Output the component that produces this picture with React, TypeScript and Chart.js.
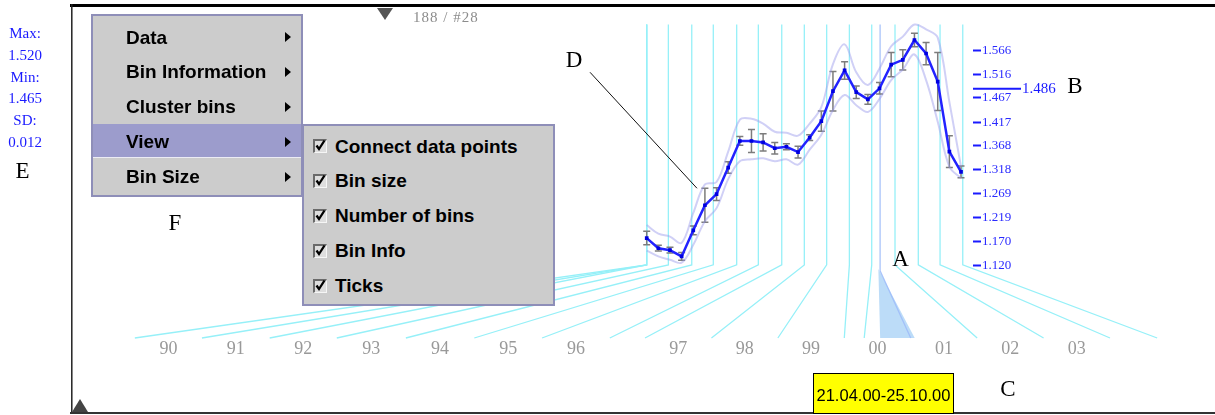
import React, { useEffect, useRef } from 'react';
import { Chart, registerables } from 'chart.js';

Chart.register(...registerables);

// ---------- data ----------
const bins = [1, 2, 3, 4, 5, 6, 7, 8, 9, 10, 11, 12, 13, 14, 15, 16, 17, 18, 19, 20, 21, 22, 23, 24, 25, 26, 27, 28];
const binMeans = [1.177, 1.156, 1.152, 1.139, 1.193, 1.245, 1.268, 1.323, 1.378, 1.378, 1.375, 1.363, 1.366, 1.355,
  1.385, 1.419, 1.481, 1.524, 1.479, 1.464, 1.487, 1.536, 1.546, 1.587, 1.559, 1.501, 1.356, 1.314];
const binErrors = [0.014, 0.006, 0.006, 0.008, 0.009, 0.035, 0.013, 0.012, 0.009, 0.024, 0.018, 0.012, 0.006, 0.012,
  0.006, 0.021, 0.041, 0.018, 0.013, 0.010, 0.012, 0.025, 0.021, 0.014, 0.023, 0.060, 0.033, 0.012];
const bandUpper = [1.204, 1.186, 1.180, 1.167, 1.229, 1.288, 1.293, 1.356, 1.422, 1.424, 1.414, 1.397, 1.395, 1.389,
  1.414, 1.448, 1.537, 1.578, 1.520, 1.494, 1.528, 1.574, 1.594, 1.619, 1.609, 1.592, 1.459, 1.325];
const bandLower = [1.151, 1.139, 1.132, 1.126, 1.163, 1.212, 1.239, 1.299, 1.336, 1.340, 1.342, 1.336, 1.340, 1.329,
  1.360, 1.391, 1.442, 1.473, 1.452, 1.438, 1.465, 1.504, 1.526, 1.557, 1.504, 1.418, 1.325, 1.301];

const yTickValues = [1.120, 1.170, 1.219, 1.269, 1.318, 1.368, 1.417, 1.467, 1.516, 1.566];
const selectedMean = 1.486;

// vertical bin guide lines (bin position) and where they land on the time line (year)
const gridBins = [1, 1, 1, 2.86, 4.87, 6.72, 8.73, 10.59, 12.6, 14.54, 16.46, 18.41, 20.33, 22.33, 24.33, 26.2, 28.15];
const gridYears = [1989.32, 1990.33, 1991.35, 1992.36, 1993.40, 1994.43, 1995.45, 1996.47, 1997, 1998, 1999, 2000,
  2000.30, 2002, 2003, 2004, 2004.71];
const selectedBin = 20.9;
const selectedLineBin = 21.05;
const selectedLineYear = 2001;
const selectedRange = [2000.54, 2001.06];
const lineTopValue = 1.619;
const bendValue = 1.1215;

// time line: segment bounds and their labels ('' = unlabelled gap)
const yearBounds = [1989.32, 1990.33, 1991.35, 1992.36, 1993.40, 1994.43, 1995.45, 1996.47, 1997, 1998, 1999, 2000,
  2001, 2002, 2003, 2004];
const yearLabels = ['90', '91', '92', '93', '94', '95', '96', '', '97', '98', '99', '00', '01', '02', '03'];

// annotation "D" leader line in data coordinates [bin, value]
const leaderD = [[-3.87, 1.5202], [5.32, 1.2801]];

const menuItems = ['Data', 'Bin Information', 'Cluster bins', 'View', 'Bin Size'];
const viewItems = ['Connect data points', 'Bin size', 'Number of bins', 'Bin Info', 'Ticks'];
const statLines = ['Max:', '1.520', 'Min:', '1.465', 'SD:', '0.012'];
const dateRangeText = '21.04.00-25.10.00';
const countText = '188 / #28';

// ---------- derived ----------
const yearTickPos: number[] = [];
const yearTickLabels: string[] = [];
yearLabels.forEach((l, i) => {
  if (l) {
    yearTickPos.push((yearBounds[i] + yearBounds[i + 1]) / 2);
    yearTickLabels.push(l);
  }
});

const SERIF = "'Liberation Serif', 'DejaVu Serif', serif";
const SANS = "'Liberation Sans', Arial, sans-serif";

const decorPlugin = {
  id: 'decor',
  beforeDatasetsDraw(chart: any) {
    const { ctx, chartArea, scales } = chart;
    const x = scales.x, y = scales.y, xt = scales.xt;
    const yTop = y.getPixelForValue(lineTopValue);
    const yBend = y.getPixelForValue(bendValue);
    const yBase = chartArea.bottom;
    ctx.save();
    // selection wedge
    ctx.fillStyle = '#bcdcf8';
    ctx.beginPath();
    ctx.moveTo(x.getPixelForValue(selectedBin), yBend + 4);
    ctx.lineTo(xt.getPixelForValue(selectedRange[1]), yBase);
    ctx.lineTo(xt.getPixelForValue(selectedRange[0]), yBase);
    ctx.closePath();
    ctx.fill();
    // guide lines
    ctx.lineWidth = 1.3;
    ctx.strokeStyle = '#96f0f8';
    gridBins.forEach((b, i) => {
      const px = x.getPixelForValue(b);
      ctx.beginPath();
      ctx.moveTo(px, yTop);
      ctx.lineTo(px, yBend);
      ctx.lineTo(xt.getPixelForValue(gridYears[i]), yBase);
      ctx.stroke();
    });
    ctx.strokeStyle = 'rgba(160,190,250,0.9)';
    const sp = x.getPixelForValue(selectedLineBin);
    ctx.beginPath();
    ctx.moveTo(sp, yTop);
    ctx.lineTo(sp, yBend + 6);
    ctx.lineTo(xt.getPixelForValue(selectedLineYear), yBase);
    ctx.stroke();
    // error bars
    ctx.strokeStyle = '#7c7c7c';
    ctx.lineWidth = 1.5;
    bins.forEach((b, i) => {
      const px = x.getPixelForValue(b);
      const hi = y.getPixelForValue(binMeans[i] + binErrors[i]);
      const lo = y.getPixelForValue(binMeans[i] - binErrors[i]);
      ctx.beginPath();
      ctx.moveTo(px, hi); ctx.lineTo(px, lo);
      ctx.moveTo(px - 3.5, hi); ctx.lineTo(px + 3.5, hi);
      ctx.moveTo(px - 3.5, lo); ctx.lineTo(px + 3.5, lo);
      ctx.stroke();
    });
    ctx.restore();
  },
  afterDraw(chart: any) {
    const { ctx, chartArea, scales } = chart;
    const x = scales.x, y = scales.y;
    ctx.save();
    // selected mean marker
    const my = y.getPixelForValue(selectedMean);
    ctx.strokeStyle = '#1a1aff';
    ctx.lineWidth = 2;
    ctx.beginPath();
    ctx.moveTo(chartArea.right, my);
    ctx.lineTo(chartArea.right + 48, my);
    ctx.stroke();
    ctx.fillStyle = '#1a1aff';
    ctx.font = `15px ${SERIF}`;
    ctx.textBaseline = 'middle';
    ctx.textAlign = 'left';
    ctx.fillText(selectedMean.toFixed(3), chartArea.right + 49, my);
    // leader line for D
    ctx.strokeStyle = '#111';
    ctx.lineWidth = 1;
    ctx.beginPath();
    ctx.moveTo(x.getPixelForValue(leaderD[0][0]), y.getPixelForValue(leaderD[0][1]));
    ctx.lineTo(x.getPixelForValue(leaderD[1][0]), y.getPixelForValue(leaderD[1][1]));
    ctx.stroke();
    // frame
    ctx.strokeStyle = '#000';
    ctx.lineWidth = 3;
    ctx.beginPath(); ctx.moveTo(70, 5.5); ctx.lineTo(1215, 5.5); ctx.stroke();
    ctx.strokeStyle = '#222';
    ctx.lineWidth = 1.5;
    ctx.beginPath(); ctx.moveTo(71.8, 4); ctx.lineTo(71.8, 414); ctx.stroke();
    ctx.strokeStyle = '#333';
    ctx.lineWidth = 2;
    ctx.beginPath(); ctx.moveTo(70, 413); ctx.lineTo(1215, 413); ctx.stroke();
    // slider triangles
    ctx.fillStyle = '#555';
    ctx.beginPath(); ctx.moveTo(377, 8); ctx.lineTo(393, 8); ctx.lineTo(385, 20); ctx.closePath(); ctx.fill();
    ctx.fillStyle = '#444';
    ctx.beginPath(); ctx.moveTo(72, 412); ctx.lineTo(88, 412); ctx.lineTo(80, 399); ctx.closePath(); ctx.fill();
    ctx.restore();
  },
};

function Txt(props: { x: number; cy: number; size: number; text: string; family?: string; color?: string; weight?: number; align?: 'left' | 'center'; spacing?: number }) {
  const { x, cy, size, text, family = SERIF, color = '#000', weight = 400, align = 'left', spacing = 0 } = props;
  const style: React.CSSProperties = {
    position: 'absolute', top: cy - size / 2, fontSize: size, lineHeight: `${size}px`, fontFamily: family,
    color, fontWeight: weight, whiteSpace: 'nowrap', letterSpacing: spacing,
  };
  if (align === 'center') { style.left = x - 100; style.width = 200; style.textAlign = 'center'; }
  else style.left = x;
  return <div style={style}>{text}</div>;
}

function Arrow({ x, cy }: { x: number; cy: number }) {
  return <div style={{ position: 'absolute', left: x, top: cy - 5, width: 0, height: 0, borderTop: '5px solid transparent', borderBottom: '5px solid transparent', borderLeft: '6px solid #000' }} />;
}

function Check({ x, cy }: { x: number; cy: number }) {
  return (
    <div style={{ position: 'absolute', left: x, top: cy - 7, width: 14, height: 14, boxSizing: 'border-box', borderTop: '2px solid #6a6a6a', borderLeft: '2px solid #6a6a6a', borderRight: '1px solid #f6f6f6', borderBottom: '1px solid #f6f6f6', background: '#dedede' }}>
      <svg width="13" height="13" style={{ position: 'absolute', left: -1, top: -2 }}>
        <path d="M2.5 6.5 L5 10 L10.5 1.5" stroke="#000" strokeWidth="2.3" fill="none" />
      </svg>
    </div>
  );
}

export default function App() {
  const ref = useRef<HTMLCanvasElement>(null);
  useEffect(() => {
    const chart = new Chart(ref.current as HTMLCanvasElement, {
      type: 'line',
      data: {
        datasets: [
          {
            data: bins.map((b, i) => ({ x: b, y: binMeans[i] })),
            borderColor: '#2222ff', borderWidth: 2.5, pointStyle: 'rect', pointRadius: 2.6,
            pointBackgroundColor: '#0000e0', pointBorderColor: '#0000e0', pointBorderWidth: 0, order: 0,
          },
          {
            data: bins.map((b, i) => ({ x: b, y: bandUpper[i] })),
            borderColor: 'rgba(150,150,235,0.45)', borderWidth: 2, pointRadius: 0, tension: 0.35, order: 1,
          },
          {
            data: bins.map((b, i) => ({ x: b, y: bandLower[i] })),
            borderColor: 'rgba(150,150,235,0.45)', borderWidth: 2, pointRadius: 0, tension: 0.35, order: 1,
          },
        ],
      },
      options: {
        responsive: false,
        animation: false,
        devicePixelRatio: 1,
        events: [],
        layout: { padding: { left: 72, top: 6, right: 0, bottom: 0 } },
        plugins: { legend: { display: false }, tooltip: { enabled: false } },
        scales: {
          x: { type: 'linear', min: -48.37, max: 29.03, display: false },
          xt: {
            type: 'linear', position: 'bottom', min: 1988.374, max: 2001.9375,
            grid: { display: false, drawTicks: false }, border: { display: false },
            ticks: {
              autoSkip: false, maxRotation: 0, minRotation: 0, padding: 0, color: '#999999',
              font: { family: SERIF, size: 18 },
              callback: (_v: any, i: number) => yearTickLabels[i],
            },
            afterBuildTicks: (s: any) => { s.ticks = yearTickPos.map((v) => ({ value: v })); },
            afterFit: (s: any) => { s.height = 77; },
          },
          y: {
            type: 'linear', position: 'right', min: 0.97016, max: 1.65159,
            grid: { display: true, drawOnChartArea: false, drawTicks: true, tickLength: 8, tickWidth: 2, tickColor: '#1a1aff', color: '#1a1aff' },
            border: { display: false },
            ticks: {
              autoSkip: false, padding: 1, color: '#2a2aff', font: { family: SERIF, size: 13 },
              callback: (v: any) => Number(v).toFixed(3),
            },
            afterBuildTicks: (s: any) => { s.ticks = yTickValues.map((v) => ({ value: v })); },
            afterFit: (s: any) => { s.width = 242; },
          },
        },
      } as any,
      plugins: [decorPlugin],
    });
    return () => chart.destroy();
  }, []);

  return (
    <div style={{ position: 'absolute', left: 0, top: 0, width: 1215, height: 415, background: '#fff', overflow: 'hidden' }}>
      <canvas ref={ref} width={1215} height={415} style={{ position: 'absolute', left: 0, top: 0, width: 1215, height: 415 }} />

      {/* left statistics */}
      {statLines.map((s, i) => (
        <Txt key={'st' + i} x={25} cy={33.8 + i * 21.7} size={15} text={s} color="#1a1aff" align="center" />
      ))}

      <Txt x={413} cy={17} size={15} text={countText} color="#8c8c8c" spacing={1} />

      {/* main popup menu */}
      <div style={{ position: 'absolute', left: 91, top: 14, width: 212, height: 183, boxSizing: 'border-box', border: '2px solid #8e8eb8', background: '#cccccc' }} />
      <div style={{ position: 'absolute', left: 93, top: 124, width: 208, height: 33, background: '#9c9ccc' }} />
      <div style={{ position: 'absolute', left: 93, top: 157, width: 208, height: 1, background: '#ececf4' }} />
      {menuItems.map((m, i) => (
        <React.Fragment key={'m' + i}>
          <Txt x={126} cy={37 + i * 34.9} size={19} text={m} family={SANS} weight={700} />
          <Arrow x={285} cy={37 + i * 34.9} />
        </React.Fragment>
      ))}

      {/* View submenu */}
      <div style={{ position: 'absolute', left: 302, top: 124, width: 253, height: 182, boxSizing: 'border-box', border: '2px solid #8e8eb8', background: '#cccccc' }} />
      {viewItems.map((m, i) => (
        <React.Fragment key={'v' + i}>
          <Check x={313} cy={146 + i * 34.9} />
          <Txt x={335} cy={146 + i * 34.9} size={19} text={m} family={SANS} weight={700} />
        </React.Fragment>
      ))}

      {/* selected date range */}
      <div style={{ position: 'absolute', left: 813, top: 373, width: 141, height: 41, boxSizing: 'border-box', border: '1px solid #000', background: '#ffff00' }} />
      <Txt x={883.5} cy={395.5} size={16.5} text={dateRangeText} family={SANS} align="center" />

      {/* annotation letters */}
      <Txt x={574} cy={59} size={23} text="D" align="center" />
      <Txt x={1075} cy={85} size={23} text="B" align="center" />
      <Txt x={900.5} cy={258} size={23} text="A" align="center" />
      <Txt x={1008} cy={388} size={23} text="C" align="center" />
      <Txt x={22.5} cy={170.5} size={23} text="E" align="center" />
      <Txt x={175} cy={222} size={23} text="F" align="center" />
    </div>
  );
}
